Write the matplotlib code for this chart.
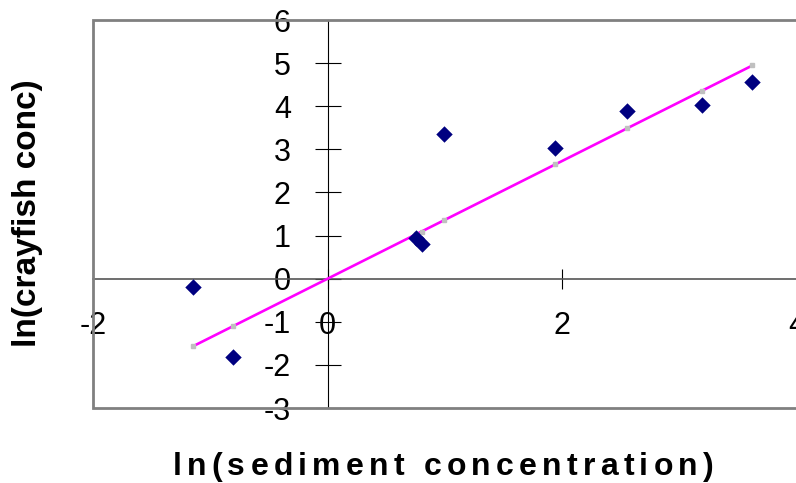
import numpy as np
import matplotlib.pyplot as plt
from matplotlib.patches import Rectangle

plt.rcParams['font.family'] = ['Liberation Sans', 'DejaVu Sans']
plt.rcParams['axes.unicode_minus'] = False

# ln values
ln_sediment = [-1.15, -0.81, 0.75, 0.80, 0.99, 1.94, 2.55, 3.19, 3.62]
ln_crayfish = [-0.19, -1.82, 0.94, 0.80, 3.35, 3.03, 3.89, 4.03, 4.56]

x_ticks = [-2, 0, 2, 4]
y_ticks = [-3, -2, -1, 0, 1, 2, 3, 4, 5, 6]

x_title = 'ln(sediment concentration)'
y_title = 'ln(crayfish conc)'

x = np.array(ln_sediment)
y = np.array(ln_crayfish)
# fit through origin
slope = np.sum(x * y) / np.sum(x * x)
xs = np.sort(x)
fit = slope * xs

fig = plt.figure(figsize=(7.96, 4.83), dpi=100)
ax = fig.add_axes([93 / 796, 75 / 483, 704 / 796, 388 / 483])

ax.plot(xs, fit, color='#FF00FF', lw=1.9, zorder=3,
        marker='s', ms=2.5, mfc='#C0C0C0', mec='#C0C0C0')
ax.scatter(x, y, marker='D', s=70, color='#000080', zorder=4, linewidths=0)

ax.set_xlim(-2, 4)
ax.set_ylim(-3, 6)
ax.set_xticks(x_ticks)
ax.set_yticks(y_ticks)

ax.spines['left'].set_position(('data', 0))
ax.spines['bottom'].set_position(('data', 0))
ax.spines['top'].set_visible(False)
ax.spines['right'].set_visible(False)
ax.spines['left'].set_color('black')
ax.spines['left'].set_linewidth(0.8)
ax.spines['bottom'].set_color('#555555')
ax.spines['bottom'].set_linewidth(1.2)

ax.tick_params(axis='y', direction='inout', length=19, width=0.8, pad=17, labelsize=22)
ax.tick_params(axis='x', direction='inout', length=15, width=0.8, pad=16, labelsize=22)

ax.add_patch(Rectangle((0, 0), 1, 1, transform=ax.transAxes, fill=False,
                       edgecolor='#808080', lw=2, clip_on=False, zorder=5))

fig.text(28 / 796, 1 - 213 / 483, y_title, rotation=90, ha='center', va='center',
         fontsize=24, fontweight='bold')

# x title is letter-spaced in the original, so place it glyph by glyph
renderer = fig.canvas.get_renderer()
title_size = 23
def width_of(s):
    if not s:
        return 0.0
    t = fig.text(0, 0, s, fontsize=title_size, fontweight='bold')
    w = t.get_window_extent(renderer).width
    t.remove()
    return w
target = 541
spacing = (target - width_of(x_title)) / (len(x_title) - 1)
offsets = [width_of(x_title[:i]) + i * spacing for i in range(len(x_title))]
start = 443 - target / 2
for ch, off in zip(x_title, offsets):
    fig.text((start + off) / 796, 8 / 483, ch, ha='left', va='baseline',
             fontsize=title_size, fontweight='bold')

fig.savefig('out.png', dpi=100)
